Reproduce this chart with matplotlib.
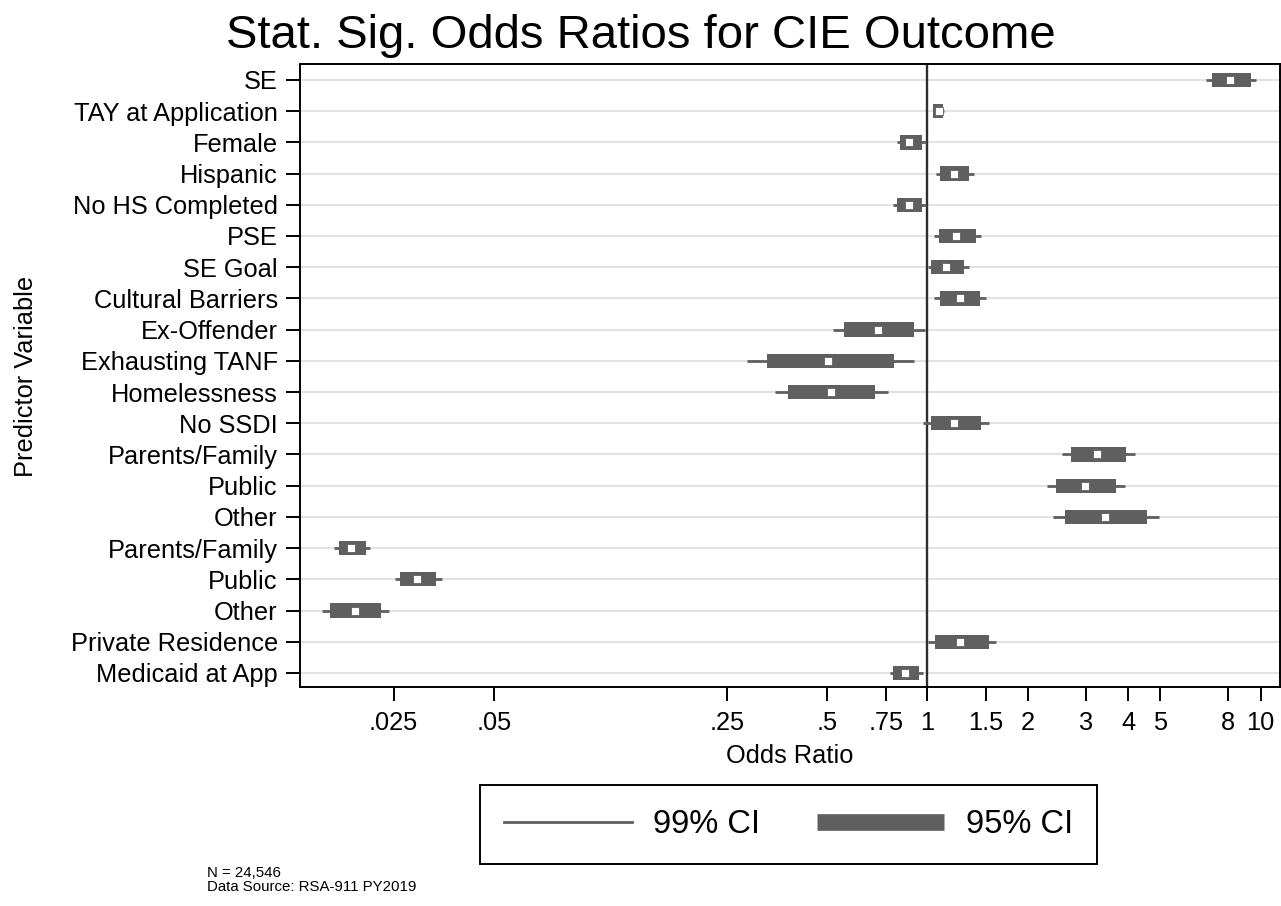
import matplotlib
matplotlib.use("Agg")
import matplotlib.pyplot as plt
from matplotlib.lines import Line2D
import numpy as np

# Predictors, listed top to bottom
labels = [
    "SE", "TAY at Application", "Female", "Hispanic", "No HS Completed",
    "PSE", "SE Goal", "Cultural Barriers", "Ex-Offender", "Exhausting TANF",
    "Homelessness", "No SSDI", "Parents/Family", "Public", "Other",
    "Parents/Family", "Public", "Other", "Private Residence", "Medicaid at App",
]

odds = [8.11, 1.081, 0.883, 1.205, 0.883, 1.219, 1.141, 1.250, 0.709, 0.505,
        0.513, 1.205, 3.23, 2.98, 3.41, 0.0186, 0.0295, 0.0191, 1.250, 0.859]

ci95_lo = [7.13, 1.043, 0.830, 1.094, 0.811, 1.081, 1.028, 1.094, 0.561, 0.331,
           0.383, 1.026, 2.69, 2.43, 2.59, 0.0171, 0.0262, 0.0161, 1.052, 0.789]
ci95_hi = [9.33, 1.114, 0.966, 1.337, 0.966, 1.400, 1.285, 1.443, 0.910, 0.794,
           0.695, 1.453, 3.95, 3.69, 4.55, 0.0207, 0.0336, 0.0230, 1.528, 0.942]

ci99_lo = [6.84, 1.038, 0.811, 1.062, 0.789, 1.045, 1.005, 1.050, 0.521, 0.288,
           0.349, 0.971, 2.54, 2.28, 2.38, 0.0166, 0.0252, 0.0152, 1.005, 0.770]
ci99_hi = [9.70, 1.120, 0.991, 1.377, 0.991, 1.453, 1.331, 1.504, 0.981, 0.910,
           0.764, 1.535, 4.19, 3.93, 4.95, 0.0213, 0.0350, 0.0243, 1.611, 0.971]

xticks = [0.025, 0.05, 0.25, 0.5, 0.75, 1, 1.5, 2, 3, 4, 5, 8, 10]
xticklabels = [".025", ".05", ".25", ".5", ".75", "1", "1.5", "2", "3", "4",
               "5", "8", "10"]

plt.rcParams["font.family"] = ["Liberation Sans", "DejaVu Sans"]

W, H = 1281, 906
fig = plt.figure(figsize=(W / 100, H / 100), dpi=100)
ax = fig.add_axes([300 / W, 219 / H, 979.5 / W, 623 / H])

bar_col = "#5f5f5f"
rows = np.arange(1, len(labels) + 1)

ax.set_xscale("log")
for y in rows:
    ax.axhline(y, color="#e3e3e3", lw=1.5, zorder=0)
ax.axvline(1, color="#2e2e2e", lw=1.7, zorder=1)

lo95 = np.array(ci95_lo)
hi95 = np.array(ci95_hi)
ax.hlines(rows, ci99_lo, ci99_hi, color=bar_col, lw=2.0, zorder=2)
ax.barh(rows, hi95 - lo95, left=lo95, height=0.46, color=bar_col,
        edgecolor="none", zorder=3)
ax.plot(odds, rows, ls="none", marker="s", ms=5.6, mfc="white",
        mec=bar_col, mew=0.6, zorder=4)

ax.set_xlim(0.0131, 11.4)
ax.set_ylim(20.45, 0.49)

ax.set_xticks(xticks)
ax.set_xticklabels(xticklabels)
ax.xaxis.set_minor_locator(matplotlib.ticker.NullLocator())
ax.set_yticks(rows)
ax.set_yticklabels(labels)

ax.tick_params(axis="both", direction="out", length=10, width=1.4,
               color="black", labelsize=18.3)
ax.tick_params(axis="y", pad=6)
ax.tick_params(axis="x", pad=7)
for sp in ax.spines.values():
    sp.set_linewidth(1.4)
    sp.set_color("black")

ax.set_xlabel("Odds Ratio", fontsize=18.3)
ax.xaxis.set_label_coords(0.5, -0.091)
ax.xaxis.label.set_va("top")

fig.text(26 / W, 1 - 376 / H, "Predictor Variable", rotation=90,
         ha="center", va="center", fontsize=18.3)
fig.text(0.5, 1 - 48 / H, "Stat. Sig. Odds Ratios for CIE Outcome",
         ha="center", va="baseline", fontsize=34)

handles = [
    Line2D([], [], color=bar_col, lw=2.0),
    Line2D([], [], color=bar_col, lw=12, solid_capstyle="butt"),
]
leg = fig.legend(handles, ["99% CI", "95% CI"], loc="center",
                 bbox_to_anchor=(788.5 / W, 1 - 824.5 / H), ncol=2,
                 fontsize=23.5, handlelength=3.9, handletextpad=0.65,
                 columnspacing=1.75, borderpad=0.75, fancybox=False,
                 framealpha=1, edgecolor="black")
leg.get_frame().set_linewidth(1.4)

fig.text(207 / W, 1 - 866 / H, "N = 24,546\nData Source: RSA-911 PY2019",
         ha="left", va="top", fontsize=10.8, linespacing=1.0)

fig.savefig("out.png", dpi=100)
